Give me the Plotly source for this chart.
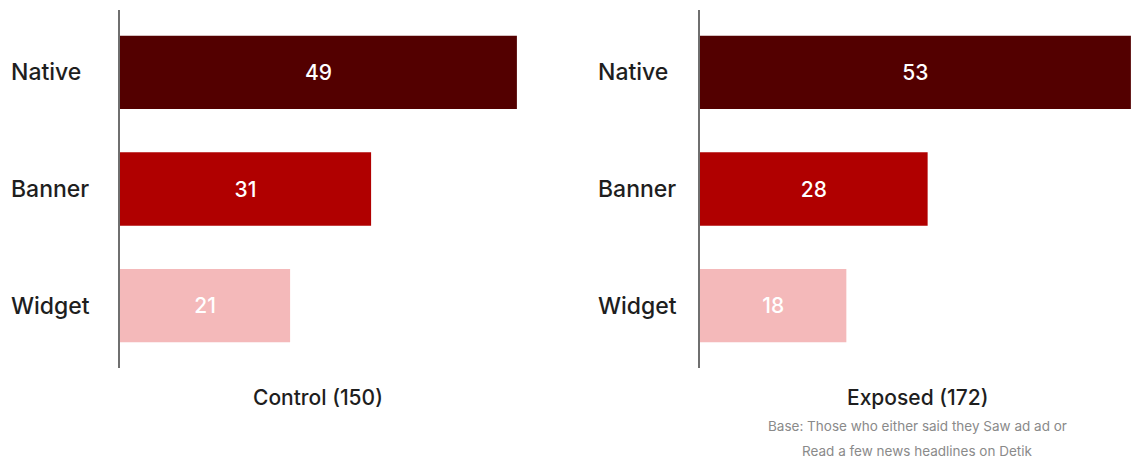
import plotly.graph_objects as go

categories = ["Native", "Banner", "Widget"]
control_values = [49, 31, 21]
exposed_values = [53, 28, 18]
bar_colors = ["#530000", "#b00000", "#f4b9ba"]
control_title = "Control (150)"
exposed_title = "Exposed (172)"
base_note_lines = ["Base: Those who either said they Saw ad ad or",
                   "Read a few news headlines on Detik"]

FONT = "Inter"
W, H = 1134, 459
PLOT_TOP, PLOT_BOT = 10, 368


def py(ypix):
    return (PLOT_BOT - ypix) / (PLOT_BOT - PLOT_TOP)


value_font = dict(color="white", size=21, family=FONT, weight=500)

fig = go.Figure()
fig.add_trace(go.Bar(
    x=control_values, y=categories, orientation="h", xaxis="x", yaxis="y",
    marker=dict(color=bar_colors, line=dict(width=0)), width=0.63,
    text=[str(v) for v in control_values], textposition="inside",
    insidetextanchor="middle", textangle=0,
    textfont=value_font, hoverinfo="skip"))
fig.add_trace(go.Bar(
    x=exposed_values, y=categories, orientation="h", xaxis="x2", yaxis="y2",
    marker=dict(color=bar_colors, line=dict(width=0)), width=0.63,
    text=[str(v) for v in exposed_values], textposition="inside",
    insidetextanchor="middle", textangle=0,
    textfont=value_font, hoverinfo="skip"))

yrange = [2.535, -0.535]
fig.update_layout(
    width=W, height=H, margin=dict(l=0, r=0, t=PLOT_TOP, b=H - PLOT_BOT),
    paper_bgcolor="white", plot_bgcolor="white", showlegend=False,
    font=dict(family=FONT, color="#222"),
    xaxis=dict(domain=[120 / W, 560 / W], range=[0, 440 / 8.1], visible=False),
    xaxis2=dict(domain=[700 / W, 1.0], range=[0, 434 / 8.13], visible=False, anchor="y2"),
    yaxis=dict(range=yrange, showline=True, linecolor="#6f6f6f", linewidth=2,
               showticklabels=False, ticks="", showgrid=False, zeroline=False,
               categoryorder="array", categoryarray=categories, anchor="x"),
    yaxis2=dict(range=yrange, showline=True, linecolor="#6f6f6f", linewidth=2,
                showticklabels=False, ticks="", showgrid=False, zeroline=False,
                categoryorder="array", categoryarray=categories, anchor="x2"),
)

label_font = dict(size=23, family=FONT, color="#1e1e1e", weight=500)
title_font = dict(size=21, family=FONT, color="#1e1e1e", weight=500)
note_font = dict(size=13.5, family=FONT, color="#8a8a8a")
annotations = []
for cat in categories:
    annotations.append(dict(text=cat, x=9 / W, xref="paper", y=cat, yref="y",
                            xanchor="left", yanchor="middle", showarrow=False,
                            font=label_font))
    annotations.append(dict(text=cat, x=596 / W, xref="paper", y=cat, yref="y2",
                            xanchor="left", yanchor="middle", showarrow=False,
                            font=label_font))
annotations.append(dict(text=control_title, x=318 / W, xref="paper", y=py(397),
                        yref="paper", xanchor="center", yanchor="middle", showarrow=False,
                        font=title_font))
annotations.append(dict(text=exposed_title, x=917 / W, xref="paper", y=py(397),
                        yref="paper", xanchor="center", yanchor="middle", showarrow=False,
                        font=title_font))
for line, ypix in zip(base_note_lines, [426, 451]):
    annotations.append(dict(text=line, x=917 / W, xref="paper", y=py(ypix),
                            yref="paper", xanchor="center", yanchor="middle", showarrow=False,
                            font=note_font))
fig.update_layout(annotations=annotations)

fig.write_html("out.html")
